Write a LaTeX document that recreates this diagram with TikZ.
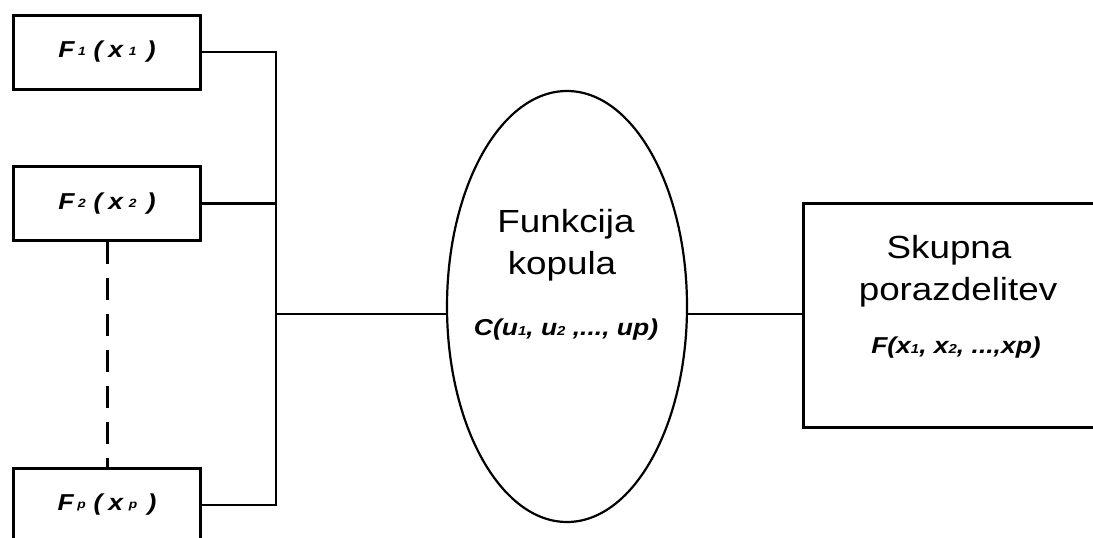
\documentclass[tikz,border=0pt]{standalone}
\usepackage{fontspec}
\setmainfont{Liberation Sans}
\usetikzlibrary{shapes.geometric}

% text is set slightly wide
\newcommand\hstretch[1]{\scalebox{1.15}[1]{#1}}
\newcommand\tinyidx[1]{\raisebox{2pt}{\fontsize{12}{12}\selectfont #1}}
\newcommand\lowidx[1]{{\fontsize{13}{13}\selectfont #1}}
\newcommand\margf[1]{F\hspace{3pt}\tinyidx{#1}\hspace{7pt}(\hspace{5pt}x\hspace{5pt}\tinyidx{#1}\hspace{9pt})}

\begin{document}
\begin{tikzpicture}[x=1pt,y=-1pt,
  margbox/.style={draw, line width=3pt, minimum width=187pt, minimum height=74pt, inner sep=0pt},
  marglabel/.style={font=\fontsize{23}{23}\selectfont\bfseries\itshape},
  bigtext/.style={anchor=base, inner sep=0pt, font=\fontsize{32}{32}\selectfont},
  formula/.style={anchor=base, inner sep=0pt, font=\fontsize{23}{23}\selectfont\bfseries\itshape},
  thinwire/.style={line width=1.5pt},
  thickwire/.style={line width=2.8pt}]
\useasboundingbox (0,0) rectangle (1093,538);

% marginal distributions
\node[margbox] (b1) at (107,52) {};
\node[margbox] (b2) at (107,203.5) {};
\node[margbox] (bp) at (107,505) {};
\node[marglabel] (l1) at (107,52) {\hstretch{\margf{1}}};
\node[marglabel] (l2) at (107,203.5) {\hstretch{\margf{2}}};
\node[marglabel] (lp) at (107,505) {\hstretch{\margf{p}}};

% copula
\node[draw, ellipse, line width=2.2pt, minimum width=240pt, minimum height=431pt, inner sep=0pt] (cop) at (567,306.5) {};
\node[bigtext] (t1) at (566,232) {\hstretch{Funkcija}};
\node[bigtext] (t2) at (562,274) {\hstretch{kopula}};
\node[formula] (t3) at (566,335) {\hstretch{C(u\lowidx{1}, u\lowidx{2} ,..., up)}};

% joint distribution
\node[draw, line width=3pt, minimum width=307pt, minimum height=224pt, inner sep=0pt] (joint) at (956.5,315.5) {};
\node[bigtext] (s1) at (949,258) {\hstretch{Skupna}};
\node[bigtext] (s2) at (958,300) {\hstretch{porazdelitev}};
\node[formula] (s3) at (956,353) {\hstretch{F(x\lowidx{1}, x\lowidx{2}, ...,xp)}};

% collecting bus
\coordinate (bt) at (276,52);
\coordinate (bb) at (276,505);
\coordinate (bm) at (276,314);
\draw[thinwire] (b1.east) -- (bt) -- (bb) -- (bp.east);
\draw[thickwire] (b2.east) -- (b2.east -| bt);
\draw[thickwire] (bm) -- (cop.west |- bm);
\draw[thickwire] (cop.east |- bm) -- (joint.west |- bm);

% omitted marginals
\draw[line width=3pt, dash pattern=on 22pt off 14pt] (b2.south) -- (bp.north);
\end{tikzpicture}
\end{document}
